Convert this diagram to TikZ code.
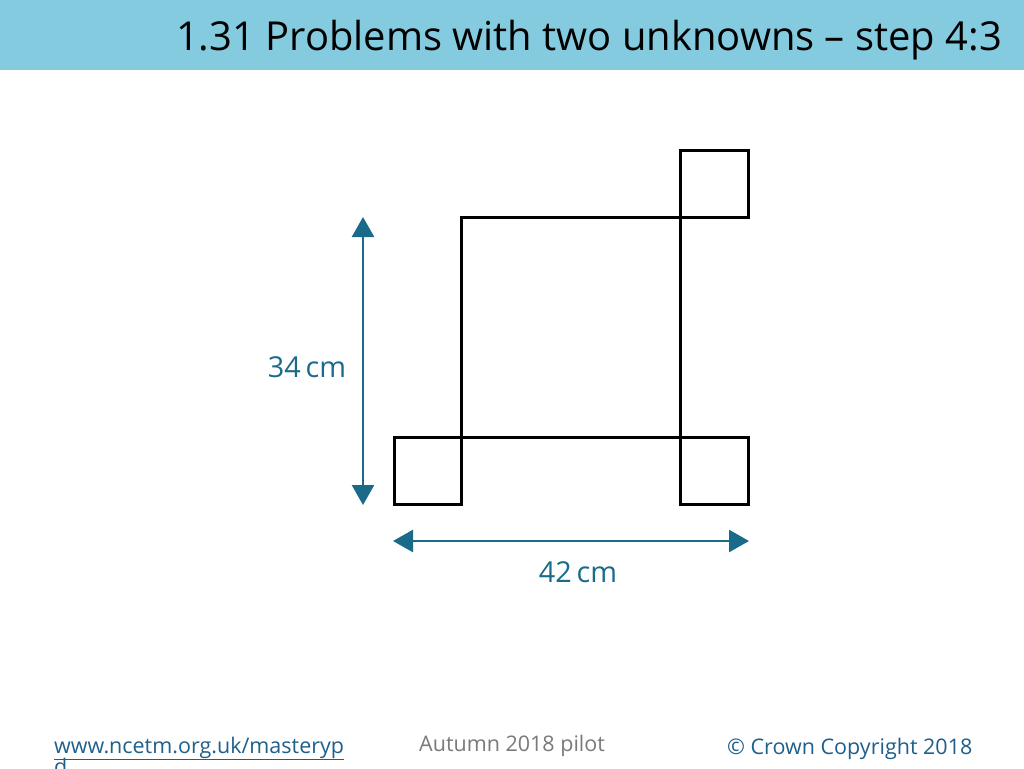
\documentclass[tikz,border=0pt]{standalone}
\usepackage{fontspec}
\setmainfont{Open Sans}
\usetikzlibrary{arrows.meta}
\definecolor{band}{HTML}{84CBE0}
\definecolor{teal}{HTML}{1A6A8A}
\definecolor{greytxt}{HTML}{7A7A7A}
\definecolor{linkblue}{HTML}{1F5F8B}
\tikzset{
  sq/.style={draw=black, line width=3pt},
  dim/.style={draw=teal, line width=2.6pt, {Triangle[width=22pt,length=20pt]}-{Triangle[width=22pt,length=20pt]}},
  dimlabel/.style={text=teal, font=\fontsize{28.8}{32}\selectfont, inner sep=0pt},
  foot/.style={font=\fontsize{21.5}{24}\selectfont, inner sep=0pt, anchor=base west}
}
\begin{document}
\begin{tikzpicture}[x=1pt,y=-1pt]
\useasboundingbox (0,0) rectangle (1024,768);
\fill[band] (0,0) rectangle (1024,70);
\node[inner sep=0pt, anchor=base east, font=\fontsize{39.9}{44}\selectfont] (title) at (1002,51) {1.31 Problems with two unknowns -- step 4:3};
% shapes
\coordinate (A) at (461,217);
\coordinate (B) at (680,437);
\draw[sq] (A) rectangle (B);
\draw[sq] (680,150) rectangle (748,217);
\draw[sq] (394,437) rectangle (461,504);
\draw[sq] (680,437) rectangle (748,504);
% dimension arrows
\coordinate (vt) at (363,217);
\coordinate (vb) at (363,505);
\draw[dim] (vt) -- (vb);
\node[dimlabel] (l34) at (307,367) {34\,cm};
\coordinate (hl) at (393,541);
\coordinate (hr) at (749,541);
\draw[dim] (hl) -- (hr);
\node[dimlabel] (l42) at (578,572) {42\,cm};
% footer
\node[foot, text=linkblue] (url) at (54,753) {\underline{www.ncetm.org.uk/masteryp}};
\node[foot, text=linkblue] (url2) at (54,774) {\underline{d}};
\node[foot, text=greytxt] (aut) at (419,751) {Autumn 2018 pilot};
\node[foot, text=linkblue] (copy) at (727,754) {© Crown Copyright 2018};
\end{tikzpicture}
\end{document}
